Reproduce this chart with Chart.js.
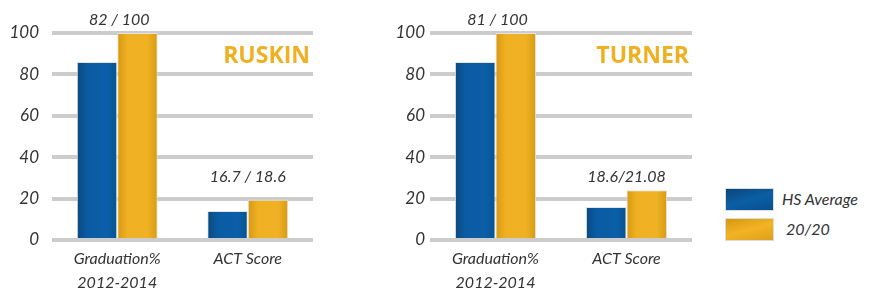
<!DOCTYPE html>
<html>
<head>
<meta charset="utf-8">
<script src="https://cdn.jsdelivr.net/npm/chart.js@4.4.1/dist/chart.umd.min.js"></script>
<style>
  html, body { margin: 0; padding: 0; background: #ffffff; }
  body { width: 873px; height: 291px; position: relative; overflow: hidden; font-family: Lato, "Open Sans", sans-serif; }
  .cv { position: absolute; top: 0; }
  #legend { position: absolute; left: 725px; top: 188px; }
  .item { position: relative; height: 30px; }
  .sw { position: absolute; left: 0; width: 49px; height: 23px; border: 1px solid #dcdcdc; box-sizing: border-box; }
  .lab { position: absolute; font-style: italic; font-size: 16px; color: #333; white-space: nowrap; }
</style>
</head>
<body>
<canvas id="c1" class="cv" style="left:0px" width="320" height="291"></canvas>
<canvas id="c2" class="cv" style="left:370px" width="330" height="291"></canvas>
<div id="legend"></div>
<script>
// ---- data ----
const categories = [["Graduation%", "2012-2014"], "ACT Score"];
const seriesNames = ["HS Average", "20/20"];
const ruskinHS = [86, 14];
const ruskin2020 = [100, 19.5];
const turnerHS = [86, 16];
const turner2020 = [100, 24];
const ruskinValueLabels = ["82 / 100", "16.7 / 18.6"];
const turnerValueLabels = ["81 / 100", "18.6/21.08"];
const schoolNames = ["RUSKIN", "TURNER"];
const yTicks = [0, 20, 40, 60, 80, 100];

const BLUE = ['#0a4a80', '#0a5ba2', '#0b5fa8', '#07528f'];
const GOLD = ['#d69812', '#efb022', '#f0b224', '#d89b14'];

function grad(cols, side) {
  return function(c) {
    const chart = c.chart;
    const xs = chart.scales.x;
    if (!xs || !chart.chartArea || c.dataIndex === undefined) return cols[1];
    const cx = xs.getPixelForValue(c.dataIndex) + side * 20;
    const g = chart.ctx.createLinearGradient(cx - 20, 0, cx + 20, 0);
    g.addColorStop(0, cols[0]);
    g.addColorStop(0.25, cols[1]);
    g.addColorStop(0.75, cols[2]);
    g.addColorStop(1, cols[3]);
    return g;
  };
}

const annotPlugin = {
  id: 'annot',
  afterDatasetsDraw(chart, args, opts) {
    const ctx = chart.ctx;
    const x = chart.scales.x, y = chart.scales.y;
    ctx.save();
    ctx.font = 'italic 16px Lato, "Open Sans", sans-serif';
    ctx.fillStyle = '#333';
    ctx.textAlign = 'center';
    ctx.textBaseline = 'alphabetic';
    opts.labels.forEach((t, i) => {
      const cx = x.getPixelForValue(i);
      const top = Math.min(...chart.data.datasets.map(d => y.getPixelForValue(d.data[i])));
      const by = i === 0 ? top - 8 : y.getPixelForValue(opts.lowLabelAt);
      ctx.fillText(t, cx + (i === 0 ? 2 : 0), by);
    });
    ctx.font = 'bold 23px "Open Sans", Lato, sans-serif';
    ctx.fillStyle = '#efb021';
    ctx.textAlign = 'right';
    ctx.fillText(opts.title, chart.chartArea.right - 3, y.getPixelForValue(100) + 30);
    ctx.restore();
  }
};

function makeChart(id, hs, tt, valueLabels, title, yWidth, tickPad, padRight) {
  return new Chart(document.getElementById(id), {
    type: 'bar',
    data: {
      labels: categories,
      datasets: [
        { label: seriesNames[0], data: hs, backgroundColor: grad(BLUE, -1), borderColor: '#e4e4e4', borderWidth: 1, borderSkipped: 'bottom' },
        { label: seriesNames[1], data: tt, backgroundColor: grad(GOLD, 1), borderColor: '#e4e4e4', borderWidth: 1, borderSkipped: 'bottom' }
      ]
    },
    options: {
      responsive: false,
      animation: false,
      events: [],
      layout: { padding: { top: 33, right: padRight, bottom: 0, left: 0 } },
      plugins: {
        legend: { display: false },
        tooltip: { enabled: false },
        annot: { labels: valueLabels, title: title, lowLabelAt: 28 }
      },
      datasets: { bar: { categoryPercentage: 0.62, barPercentage: 1.0 } },
      scales: {
        x: {
          grid: { display: false, drawTicks: false },
          border: { display: false },
          ticks: { color: '#333', font: { family: 'Lato, "Open Sans", sans-serif', size: 16, style: 'italic', lineHeight: 1.55 }, padding: 6, maxRotation: 0 },
          afterFit: s => { s.height = 51; }
        },
        y: {
          min: 0, max: 100,
          afterBuildTicks: s => { s.ticks = yTicks.map(v => ({ value: v })); },
          grid: { color: '#cccccc', lineWidth: 4, drawTicks: false, tickLength: 0 },
          border: { display: false },
          ticks: { color: '#333', font: { family: 'Lato, "Open Sans", sans-serif', size: 17, style: 'italic' }, padding: tickPad },
          afterFit: s => { s.width = yWidth; }
        }
      }
    },
    plugins: [annotPlugin]
  });
}

makeChart('c1', ruskinHS, ruskin2020, ruskinValueLabels, schoolNames[0], 52, 13, 7);
makeChart('c2', turnerHS, turner2020, turnerValueLabels, schoolNames[1], 60, 5, 8);

// legend
const lg = document.getElementById('legend');
const swatches = [
  'linear-gradient(165deg, #0a4677 0%, #0b5fa5 50%, #06508f 100%)',
  'linear-gradient(165deg, #d4960f 0%, #f2b425 50%, #dca01a 100%)'
];
seriesNames.forEach((n, i) => {
  const it = document.createElement('div');
  it.className = 'item';
  const sw = document.createElement('div');
  sw.className = 'sw';
  sw.style.background = swatches[i];
  const lb = document.createElement('div');
  lb.className = 'lab';
  lb.style.left = (i === 0 ? 57 : 61) + 'px';
  lb.style.top = '1px';
  lb.textContent = n;
  it.appendChild(sw); it.appendChild(lb);
  lg.appendChild(it);
});
</script>
</body>
</html>
